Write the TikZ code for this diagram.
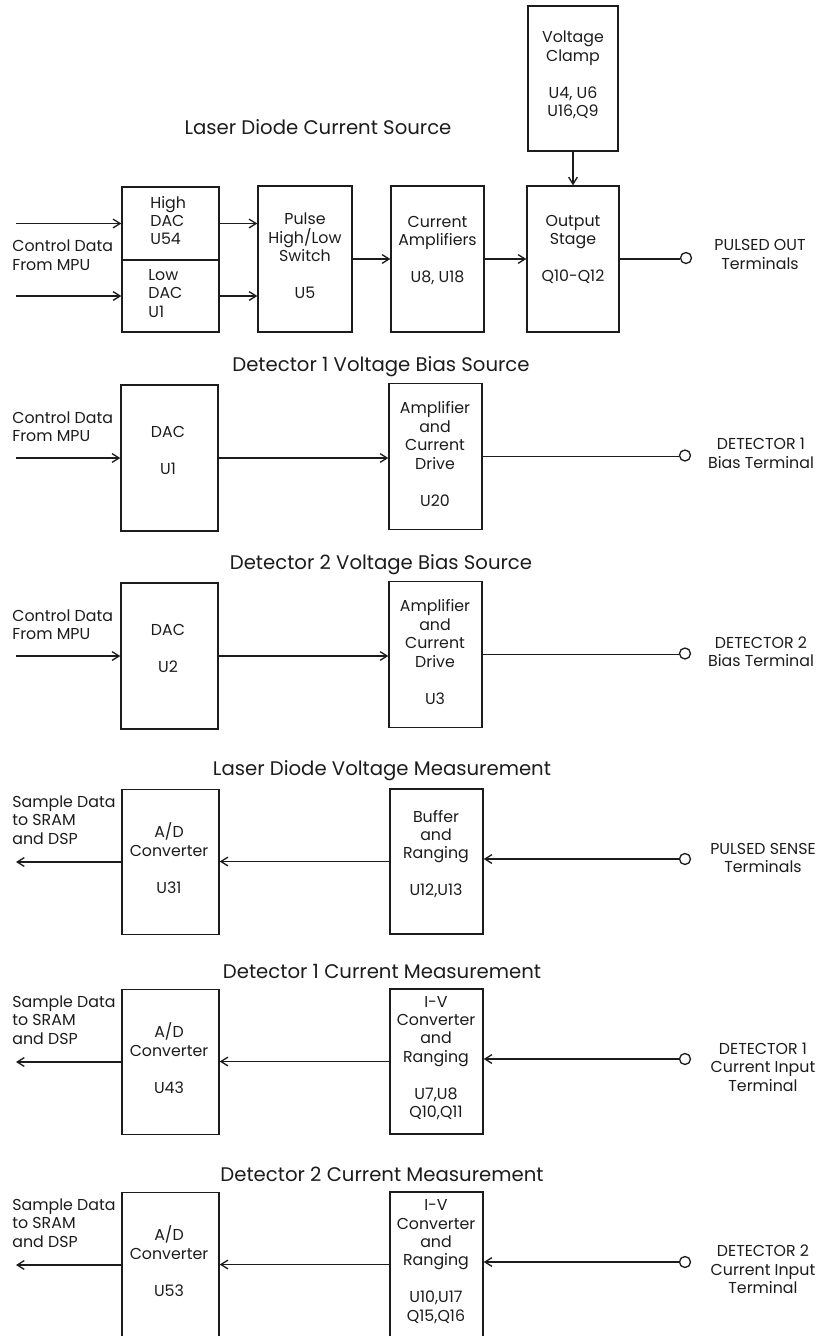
\documentclass[tikz,border=0pt]{standalone}
\usepackage{fontspec}
\setmainfont{Poppins}
\usepackage{tikz}
\usetikzlibrary{arrows.meta,positioning}
\definecolor{blockInk}{RGB}{28,28,28}

\begin{document}
\begin{tikzpicture}[x=0.02cm, y=-0.02cm,
  blk/.style={draw=blockInk, line width=0.8pt, minimum width=1.86cm, minimum height=2.92cm, inner sep=0pt},
  txt/.style={text=blockInk, font=\fontsize{9}{10.5}\selectfont, align=center, inner sep=0pt},
  side/.style={txt, align=left, anchor=west},
  hdr/.style={text=blockInk, font=\fontsize{11.2}{13}\selectfont, inner sep=0pt},
  term/.style={circle, draw=blockInk, line width=0.75pt, minimum size=0.22cm, inner sep=0pt},
  sig/.style={draw=blockInk, line width=0.75pt, -{Straight Barb[length=4pt,width=5pt]}},
  wire/.style={draw=blockInk, line width=0.75pt}]
\useasboundingbox (0,0) rectangle (825,1336);

% laser diode current source
\node[hdr] (hdrA) at (318,127) {Laser Diode Current Source};
\node[blk, minimum width=1.8cm, minimum height=2.9cm] (clamp) at (573,78.5) {};
\node[txt] (clampT) at (573,75) {Voltage\\Clamp\\[10.5pt]U4, U6\\U16,Q9};
\node[blk, minimum width=1.94cm, minimum height=1.46cm] (hidac) at (170.5,223.5) {};
\node[blk, minimum width=1.94cm, minimum height=1.44cm] (lodac) at (170.5,296) {};
\node[txt, align=left, anchor=west] (hidacT) at (150,220.5) {High\\DAC\\U54};
\node[txt, align=left, anchor=west] (lodacT) at (148,293.5) {Low\\DAC\\U1};
\node[blk, minimum width=1.88cm] (pulse) at (305,259) {};
\node[txt] (pulseT) at (305,256) {Pulse\\High/Low\\Switch\\[10.5pt]U5};
\node[blk] (curamp) at (437.5,259) {};
\node[txt] (curampT) at (437.5,250.5) {Current\\Amplifiers\\[10.5pt]U8, U18};
\node[blk, minimum width=1.84cm] (outstg) at (573,259) {};
\node[txt] (outstgT) at (573,249.5) {Output\\Stage\\[10.5pt]Q10-Q12};
\node[term] (pout) at (686,258) {};
\node[txt] (poutT) at (760,254.5) {PULSED OUT\\Terminals};
\node[side] (ctlA) at (12,255) {Control Data\\From MPU};
\coordinate (inHi) at (16,223.5);
\coordinate (inLo) at (16,296);
\draw[sig] (inHi) -- (hidac.west);
\draw[sig] (inLo) -- (lodac.west);
\draw[sig] (hidac.east) -- (hidac.east -| pulse.west);
\draw[sig] (lodac.east) -- (lodac.east -| pulse.west);
\draw[sig] (pulse.east) -- (curamp.west);
\draw[sig] (curamp.east) -- (outstg.west);
\draw[sig] (clamp.south) -- (outstg.north);
\draw[wire] (outstg.east) -- (outstg.east -| pout.west);

% detector bias sources
\foreach \o/\ua/\ub [count=\n] in {0/U1/U20, 198/U2/U3}
{
  \node[hdr] (hdrB\n) at (381,367+\o) {Detector \n\ Voltage Bias Source};
  \node[blk, minimum width=1.94cm] (dac\n) at (169.5,458+\o) {};
  \node[txt] (dacT\n) at (168,450.5+\o) {DAC\\[10.5pt]\ua};
  \node[blk] (amp\n) at (435.5,456.5+\o) {};
  \node[txt] (ampT\n) at (435,454+\o) {Amplifier\\and\\Current\\Drive\\[10.5pt]\ub};
  \node[term] (bias\n) at (685,455.5+\o) {};
  \node[txt] (biasT\n) at (761,453.5+\o) {DETECTOR \n\\Bias Terminal};
  \node[side] (ctlB\n) at (12,426.5+\o) {Control Data\\From MPU};
  \coordinate (inB\n) at (16,458+\o);
  \draw[sig] (inB\n) -- (dac\n.west);
  \draw[sig] (dac\n.east) -- (dac\n.east -| amp\n.west);
  \draw[wire] (amp\n.east) -- (amp\n.east -| bias\n.west);
}

% measurement channels
\foreach \y/\title/\unit/\rtxt/\rdy/\ttxt/\tdy [count=\n] in {
  862/{Laser Diode Voltage Measurement}/U31/{Buffer\\and\\Ranging\\[10.5pt]U12,U13}/-8/{PULSED SENSE\\Terminals}/-4,
  1062/{Detector 1 Current Measurement}/U43/{I-V\\Converter\\and\\Ranging\\[10.5pt]U7,U8\\Q10,Q11}/-4/{DETECTOR 1\\Current Input\\Terminal}/+5,
  1265/{Detector 2 Current Measurement}/U53/{I-V\\Converter\\and\\Ranging\\[10.5pt]U10,U17\\Q15,Q16}/-3.5/{DETECTOR 2\\Current Input\\Terminal}/+4.5}
{
  \node[hdr] (hdrM\n) at (382,\y-91) {\title};
  \node[blk, minimum width=1.94cm, minimum height=2.9cm] (adc\n) at (170.5,\y) {};
  \node[txt] (adcT\n) at (169,\y-4) {A/D\\Converter\\[10.5pt]\unit};
  \node[blk, minimum height=2.9cm] (buf\n) at (436.5,\y-0.5) {};
  \node[txt] (bufT\n) at (436,\y\rdy) {\rtxt};
  \node[term] (sense\n) at (685,\y-3) {};
  \node[txt] (senseT\n) at (763,\y\tdy) {\ttxt};
  \node[side] (smpT\n) at (12,\y-42) {Sample Data\\to SRAM\\and DSP};
  \coordinate (smp\n) at (16,\y);
  \draw[sig] (sense\n.west) -- (sense\n.west -| buf\n.east);
  \draw[sig] (buf\n.west) -- (buf\n.west -| adc\n.east);
  \draw[sig] (adc\n.west) -- (smp\n);
}
\end{tikzpicture}
\end{document}
